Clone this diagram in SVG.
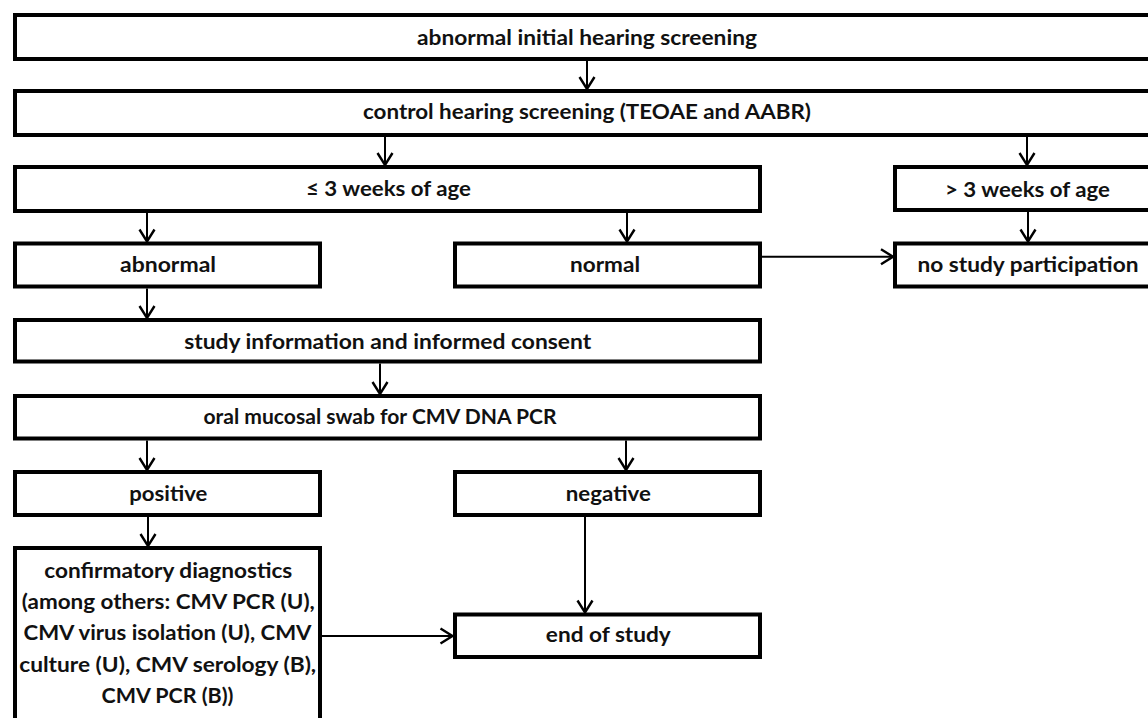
<svg xmlns="http://www.w3.org/2000/svg" width="1148" height="718" viewBox="0 0 1148 718">
<defs>
<style>
.box{fill:#fff;stroke:#000;stroke-width:4}
.t{font-family:Lato,"Open Sans","Liberation Sans",sans-serif;font-weight:bold;font-size:21px;fill:#111;text-anchor:middle}
.c{fill:none;stroke:#000;stroke-width:2}
</style>
<marker id="ah" markerUnits="userSpaceOnUse" markerWidth="20" markerHeight="20" viewBox="-14 -10 16 20" refX="0" refY="0" orient="auto">
<path d="M-12,-7.5 L0,0 L-12,7.5" fill="none" stroke="#000" stroke-width="2.4"/>
</marker>
</defs>
<rect width="1148" height="718" fill="#fff"/>
<g id="connectors">
<path class="c" d="M587,61 V89" marker-end="url(#ah)"/>
<path class="c" d="M385,137 V165" marker-end="url(#ah)"/>
<path class="c" d="M1027,137 V165" marker-end="url(#ah)"/>
<path class="c" d="M147,213 V241.5" marker-end="url(#ah)"/>
<path class="c" d="M627,213 V241.5" marker-end="url(#ah)"/>
<path class="c" d="M1028,212 V241.5" marker-end="url(#ah)"/>
<path class="c" d="M762,256.7 H893" marker-end="url(#ah)"/>
<path class="c" d="M147,288.5 V318" marker-end="url(#ah)"/>
<path class="c" d="M380,363.5 V394" marker-end="url(#ah)"/>
<path class="c" d="M147,440.5 V470" marker-end="url(#ah)"/>
<path class="c" d="M626,440.5 V470" marker-end="url(#ah)"/>
<path class="c" d="M148,517 V546" marker-end="url(#ah)"/>
<path class="c" d="M585,517 V612.5" marker-end="url(#ah)"/>
<path class="c" d="M322,636 H452.5" marker-end="url(#ah)"/>
</g>
<g id="n1"><rect class="box" x="15" y="15" width="1145" height="44"/><text class="t" x="587" y="45" textLength="340" lengthAdjust="spacingAndGlyphs">abnormal initial hearing screening</text></g>
<g id="n2"><rect class="box" x="15" y="91" width="1145" height="44"/><text class="t" x="587" y="119" textLength="448" lengthAdjust="spacingAndGlyphs">control hearing screening (TEOAE and AABR)</text></g>
<g id="n3"><rect class="box" x="15" y="167" width="745" height="44"/><text class="t" x="388.5" y="196" textLength="165" lengthAdjust="spacingAndGlyphs">≤ 3 weeks of age</text></g>
<g id="n4"><rect class="box" x="895" y="167" width="265" height="43"/><text class="t" x="1027.5" y="196.5" textLength="165" lengthAdjust="spacingAndGlyphs">&gt; 3 weeks of age</text></g>
<g id="n5"><rect class="box" x="15" y="243.5" width="305" height="43"/><text class="t" x="168" y="272" textLength="96" lengthAdjust="spacingAndGlyphs">abnormal</text></g>
<g id="n6"><rect class="box" x="455" y="243.5" width="305" height="43"/><text class="t" x="605" y="272" textLength="70" lengthAdjust="spacingAndGlyphs">normal</text></g>
<g id="n7"><rect class="box" x="895" y="243.5" width="265" height="43"/><text class="t" x="1028" y="272" textLength="221" lengthAdjust="spacingAndGlyphs">no study participation</text></g>
<g id="n8"><rect class="box" x="15" y="320" width="745" height="41.5"/><text class="t" x="387.7" y="348.5" textLength="407" lengthAdjust="spacingAndGlyphs">study information and informed consent</text></g>
<g id="n9"><rect class="box" x="15" y="396" width="745" height="42.5"/><text class="t" x="380" y="424" textLength="353" lengthAdjust="spacingAndGlyphs">oral mucosal swab for CMV DNA PCR</text></g>
<g id="n10"><rect class="box" x="15" y="472" width="305" height="43"/><text class="t" x="168.3" y="500.5" textLength="78" lengthAdjust="spacingAndGlyphs">positive</text></g>
<g id="n11"><rect class="box" x="455" y="472" width="305" height="43"/><text class="t" x="608.3" y="500.5" textLength="85" lengthAdjust="spacingAndGlyphs">negative</text></g>
<g id="n12"><rect class="box" x="15" y="548" width="305" height="200"/>
<text class="t" x="168.3" y="578.3" textLength="248" lengthAdjust="spacingAndGlyphs">confirmatory diagnostics</text>
<text class="t" x="168.3" y="609" textLength="293" lengthAdjust="spacingAndGlyphs">(among others: CMV PCR (U),</text>
<text class="t" x="167.5" y="640.3" textLength="288" lengthAdjust="spacingAndGlyphs">CMV virus isolation (U), CMV</text>
<text class="t" x="167.7" y="671.7" textLength="297" lengthAdjust="spacingAndGlyphs">culture (U), CMV serology (B),</text>
<text class="t" x="167.5" y="703" textLength="132" lengthAdjust="spacingAndGlyphs">CMV PCR (B))</text>
</g>
<g id="n13"><rect class="box" x="455" y="614.5" width="305" height="42.5"/><text class="t" x="608.3" y="642" textLength="125" lengthAdjust="spacingAndGlyphs">end of study</text></g>
</svg>
